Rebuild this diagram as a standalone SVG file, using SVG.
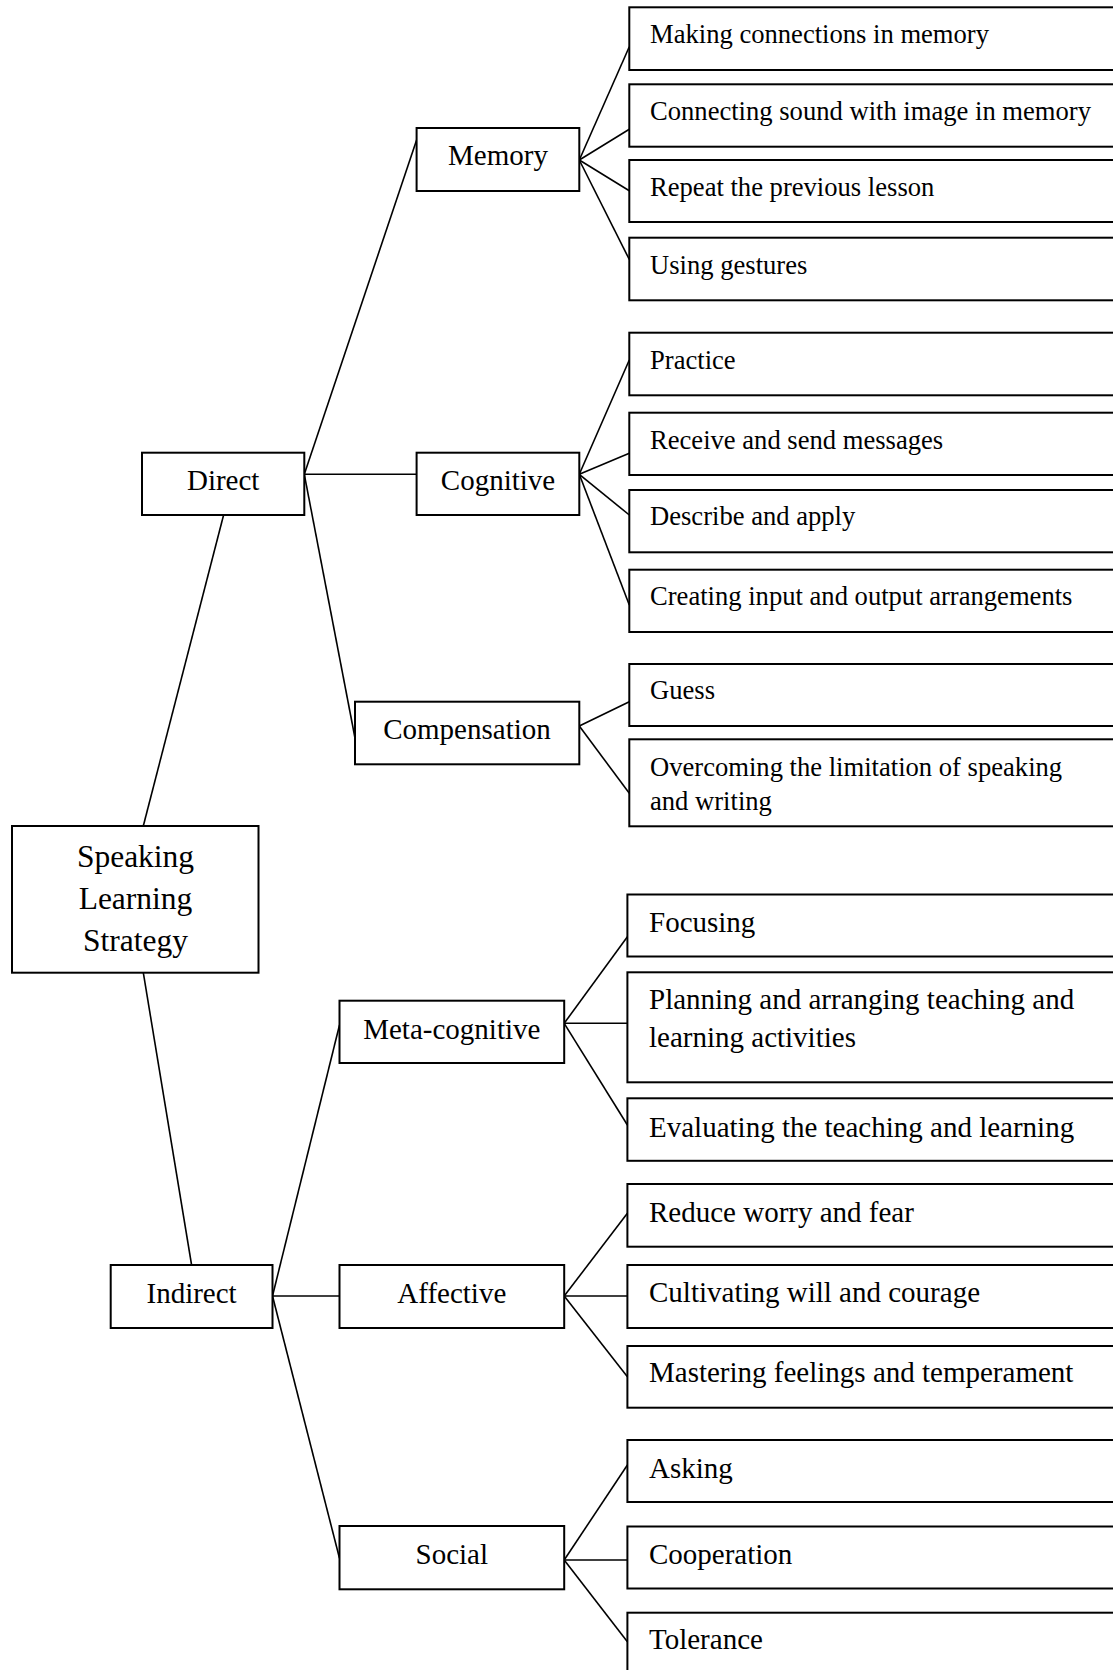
<svg xmlns="http://www.w3.org/2000/svg" width="1113" height="1670" viewBox="0 0 1113 1670">
<style>
rect{fill:#fff;stroke:#000;stroke-width:2}
.c line{stroke:#000;stroke-width:1.6}
text{font-family:"Liberation Serif","Times New Roman",serif;fill:#000}
.root{font-size:31.5px;text-anchor:middle}
.mid{font-size:29px;text-anchor:middle}
.lu{font-size:26.6px}
.ll{font-size:29px}
</style>
<rect x="0" y="0" width="1113" height="1670" style="stroke:none"/>
<g class="c" id="connectors">
<line x1="143.3" y1="826" x2="223.6" y2="515"/>
<line x1="143.3" y1="972.7" x2="191.6" y2="1265"/>
<line x1="304.3" y1="474.3" x2="416.6" y2="140"/>
<line x1="304.3" y1="474.3" x2="416.6" y2="474.3"/>
<line x1="304.3" y1="474.3" x2="355" y2="738"/>
<line x1="579.3" y1="160" x2="629.3" y2="46.7"/>
<line x1="579.3" y1="160" x2="629.3" y2="129.3"/>
<line x1="579.3" y1="160" x2="629.3" y2="190.7"/>
<line x1="579.3" y1="160" x2="629.3" y2="259.5"/>
<line x1="579.3" y1="474.3" x2="629.3" y2="360"/>
<line x1="579.3" y1="474.3" x2="629.3" y2="453.3"/>
<line x1="579.3" y1="474.3" x2="629.3" y2="515"/>
<line x1="579.3" y1="474.3" x2="629.3" y2="605"/>
<line x1="579.3" y1="726" x2="629.3" y2="701.7"/>
<line x1="579.3" y1="726" x2="629.3" y2="793.3"/>
<line x1="272.5" y1="1296" x2="339.5" y2="1025"/>
<line x1="272.5" y1="1296" x2="339.5" y2="1296"/>
<line x1="272.5" y1="1296" x2="339.5" y2="1558.3"/>
<line x1="564.2" y1="1023.3" x2="627.4" y2="936.7"/>
<line x1="564.2" y1="1023.3" x2="627.4" y2="1023.3"/>
<line x1="564.2" y1="1023.3" x2="627.4" y2="1125"/>
<line x1="564.2" y1="1296" x2="627.4" y2="1213.3"/>
<line x1="564.2" y1="1296" x2="627.4" y2="1296"/>
<line x1="564.2" y1="1296" x2="627.4" y2="1376.7"/>
<line x1="564.2" y1="1560" x2="627.4" y2="1465"/>
<line x1="564.2" y1="1560" x2="627.4" y2="1560"/>
<line x1="564.2" y1="1560" x2="627.4" y2="1641.7"/>
</g>
<g id="root"><rect x="12" y="826" width="246.5" height="146.7"/><text class="root" x="135.5" y="866.7">Speaking</text><text class="root" x="135.5" y="909.3">Learning</text><text class="root" x="135.5" y="950.7">Strategy</text></g>
<g id="direct"><rect x="142" y="452.7" width="162.3" height="62.3"/><text class="mid" x="223.2" y="490">Direct</text></g>
<g id="indirect"><rect x="110.7" y="1265" width="161.8" height="63"/><text class="mid" x="191.6" y="1302.5">Indirect</text></g>
<g id="memory"><rect x="416.6" y="128" width="162.7" height="63"/><text class="mid" x="498" y="165">Memory</text></g>
<g id="cognitive"><rect x="416.6" y="452.7" width="162.7" height="62.3"/><text class="mid" x="498" y="490">Cognitive</text></g>
<g id="compensation"><rect x="355" y="701.7" width="224.3" height="62.6"/><text class="mid" x="467" y="738.5">Compensation</text></g>
<g id="metacognitive"><rect x="339.5" y="1000.7" width="224.7" height="62.3"/><text class="mid" x="451.8" y="1038.5">Meta-cognitive</text></g>
<g id="affective"><rect x="339.5" y="1265" width="224.7" height="63"/><text class="mid" x="451.8" y="1302.5">Affective</text></g>
<g id="social"><rect x="339.5" y="1526" width="224.7" height="63.3"/><text class="mid" x="451.8" y="1563.5">Social</text></g>
<g id="leaf-making"><rect x="629.3" y="7.3" width="500" height="62.7"/><text class="lu" x="650" y="43.3">Making connections in memory</text></g>
<g id="leaf-connecting"><rect x="629.3" y="84.3" width="500" height="62.4"/><text class="lu" x="650" y="120.3">Connecting sound with image in memory</text></g>
<g id="leaf-repeat"><rect x="629.3" y="160" width="500" height="62"/><text class="lu" x="650" y="196">Repeat the previous lesson</text></g>
<g id="leaf-gestures"><rect x="629.3" y="237.7" width="500" height="62.6"/><text class="lu" x="650" y="273.7">Using gestures</text></g>
<g id="leaf-practice"><rect x="629.3" y="332.7" width="500" height="62.6"/><text class="lu" x="650" y="368.7">Practice</text></g>
<g id="leaf-receive"><rect x="629.3" y="412.7" width="500" height="62.3"/><text class="lu" x="650" y="448.5">Receive and send messages</text></g>
<g id="leaf-describe"><rect x="629.3" y="490" width="500" height="62.3"/><text class="lu" x="650" y="525">Describe and apply</text></g>
<g id="leaf-creating"><rect x="629.3" y="569.7" width="500" height="62.3"/><text class="lu" x="650" y="605.3">Creating input and output arrangements</text></g>
<g id="leaf-guess"><rect x="629.3" y="664" width="500" height="62"/><text class="lu" x="650" y="699">Guess</text></g>
<g id="leaf-overcoming"><rect x="629.3" y="739.3" width="500" height="87"/><text class="lu" x="650" y="776">Overcoming the limitation of speaking</text><text class="lu" x="650" y="810">and writing</text></g>
<g id="leaf-focusing"><rect x="627.4" y="894.5" width="500" height="62"/><text class="ll" x="649" y="931.7">Focusing</text></g>
<g id="leaf-planning"><rect x="627.4" y="972.3" width="500" height="110"/><text class="ll" x="649" y="1009.3">Planning and arranging teaching and</text><text class="ll" x="649" y="1046.7">learning activities</text></g>
<g id="leaf-evaluating"><rect x="627.4" y="1098.3" width="500" height="62.5"/><text class="ll" x="649" y="1136.5">Evaluating the teaching and learning</text></g>
<g id="leaf-reduce"><rect x="627.4" y="1184" width="500" height="62.7"/><text class="ll" x="649" y="1221.5">Reduce worry and fear</text></g>
<g id="leaf-cultivating"><rect x="627.4" y="1265" width="500" height="63"/><text class="ll" x="649" y="1302">Cultivating will and courage</text></g>
<g id="leaf-mastering"><rect x="627.4" y="1346" width="500" height="61.7"/><text class="ll" x="649" y="1382">Mastering feelings and temperament</text></g>
<g id="leaf-asking"><rect x="627.4" y="1440" width="500" height="62"/><text class="ll" x="649" y="1478">Asking</text></g>
<g id="leaf-cooperation"><rect x="627.4" y="1526.5" width="500" height="62"/><text class="ll" x="649" y="1563.5">Cooperation</text></g>
<g id="leaf-tolerance"><rect x="627.4" y="1612.7" width="500" height="80"/><text class="ll" x="649" y="1648.5">Tolerance</text></g>
</svg>
